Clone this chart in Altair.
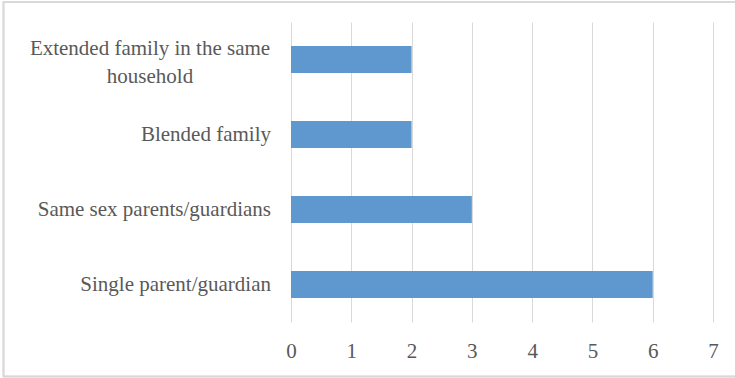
import altair as alt
import pandas as pd

categories = [
    "Extended family in the same household",
    "Blended family",
    "Same sex parents/guardians",
    "Single parent/guardian",
]
display_labels = [
    "Extended family in the same\nhousehold",
    "Blended family",
    "Same sex parents/guardians",
    "Single parent/guardian",
]
values = [2, 2, 3, 6]
x_ticks = [0, 1, 2, 3, 4, 5, 6, 7]

df = pd.DataFrame({"category": categories, "label": display_labels, "value": values})

FONT = "Liberation Serif, Times New Roman, serif"
GRAY = "#595959"
FS = 21

y_enc = alt.Y(
    "category:N",
    sort=categories,
    scale=alt.Scale(paddingInner=0, paddingOuter=0),
    axis=None,
)

bars = alt.Chart(df).mark_bar(color="#5f98cf", size=27).encode(
    x=alt.X(
        "value:Q",
        scale=alt.Scale(domain=[0, 7], nice=False, zero=True),
        axis=alt.Axis(
            values=x_ticks,
            title=None,
            grid=True,
            gridColor="#d9d9d9",
            gridWidth=1,
            domain=False,
            ticks=False,
            labelFlush=False,
            labelFont=FONT,
            labelFontSize=FS,
            labelColor=GRAY,
            labelPadding=18,
        ),
    ),
    y=y_enc,
)

single = alt.Chart(df).transform_filter(
    "indexof(datum.label, '\\n') < 0"
).mark_text(
    align="right", baseline="middle", font=FONT, fontSize=FS, color=GRAY
).encode(
    x=alt.value(-20),
    y=y_enc,
    text="label:N",
)

multi = alt.Chart(df).transform_filter(
    "indexof(datum.label, '\\n') >= 0"
).mark_text(
    align="center", baseline="middle", font=FONT, fontSize=FS, color=GRAY,
    lineBreak="\n", lineHeight=28, dy=-11,
).encode(
    x=alt.value(-141),
    y=y_enc,
    text="label:N",
)

border = alt.Chart(df).mark_rect(
    fill=None, stroke="#d9d9d9", strokeWidth=1.5
).encode(
    x=alt.value(-287.5),
    x2=alt.value(445),
    y=alt.value(-20),
    y2=alt.value(354.5),
)

chart = alt.layer(border, bars, single, multi).properties(
    width=422,
    height=300,
    autosize=alt.AutoSizeParams(type="none"),
    padding={"left": 291, "top": 22, "right": 22, "bottom": 56},
    background="white",
).configure_view(stroke=None)

chart.save("out.html", embed_options={"renderer": "svg", "actions": False})
